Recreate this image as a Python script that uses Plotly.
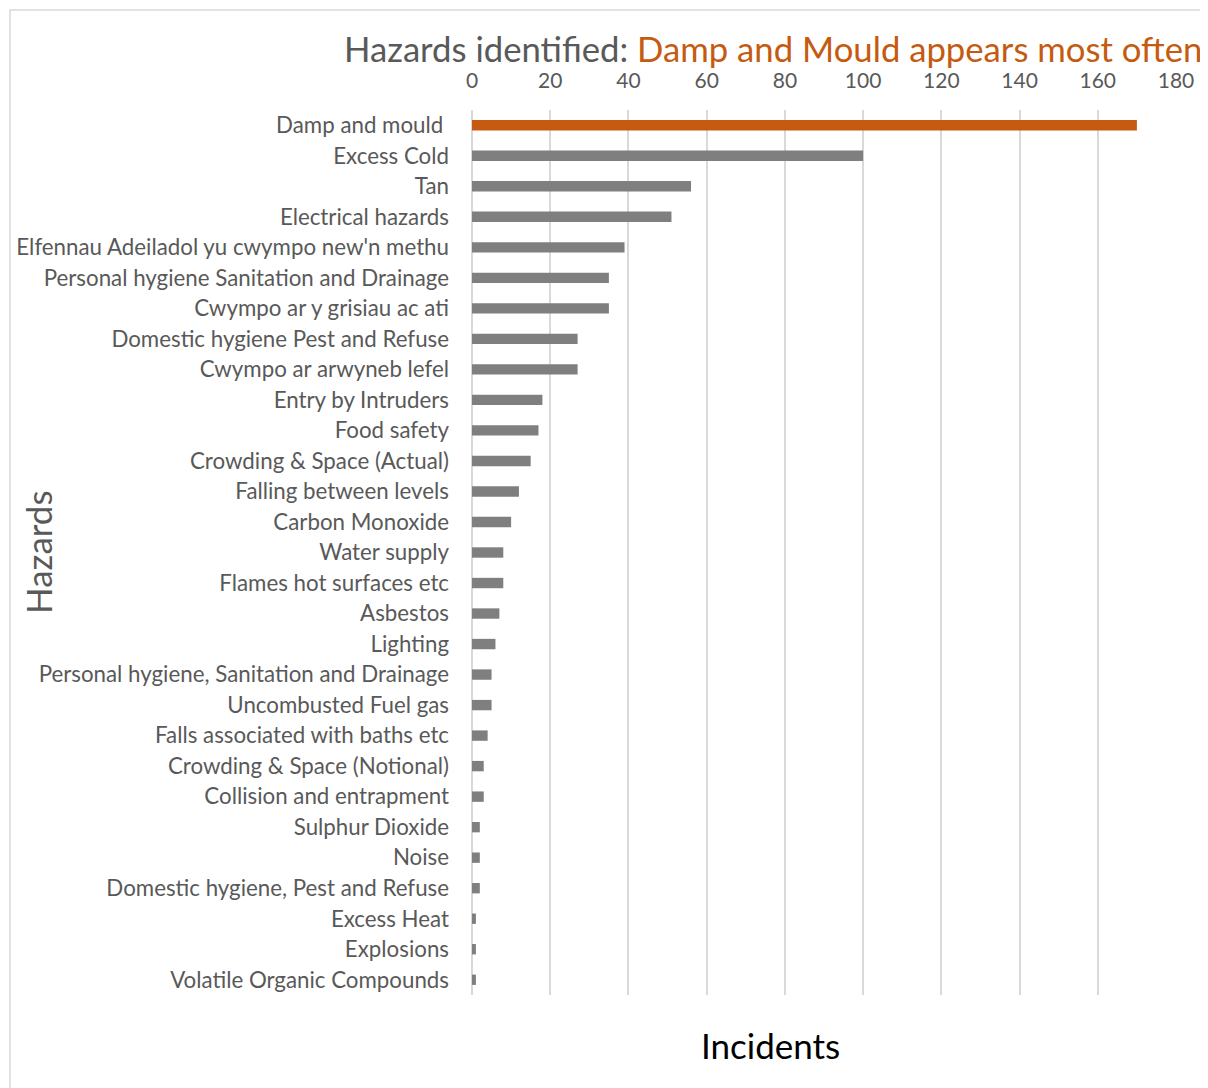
import plotly.graph_objects as go

categories = [
    "Damp and mould ", "Excess Cold", "Tan", "Electrical hazards",
    "Elfennau Adeiladol yu cwympo new'n methu",
    "Personal hygiene Sanitation and Drainage",
    "Cwympo ar y grisiau ac ati", "Domestic hygiene Pest and Refuse",
    "Cwympo ar arwyneb lefel", "Entry by Intruders", "Food safety",
    "Crowding & Space (Actual)", "Falling between levels", "Carbon Monoxide",
    "Water supply", "Flames hot surfaces etc", "Asbestos", "Lighting",
    "Personal hygiene, Sanitation and Drainage", "Uncombusted Fuel gas",
    "Falls associated with baths etc", "Crowding & Space (Notional)",
    "Collision and entrapment", "Sulphur Dioxide", "Noise",
    "Domestic hygiene, Pest and Refuse", "Excess Heat", "Explosions",
    "Volatile Organic Compounds",
]
incidents = [170, 100, 56, 51, 39, 35, 35, 27, 27, 18, 17, 15, 12, 10,
             8, 8, 7, 6, 5, 5, 4, 3, 3, 2, 2, 2, 1, 1, 1]
x_ticks = [0, 20, 40, 60, 80, 100, 120, 140, 160, 180]

ORANGE = "#C55A11"
GREY_BAR = "#7F7F7F"
TEXT = "#595959"
FONT = "Lato, 'Open Sans', sans-serif"

colors = [ORANGE if i == 0 else GREY_BAR for i in range(len(categories))]

fig = go.Figure(go.Bar(
    x=incidents, y=categories, orientation="h",
    marker=dict(color=colors, line=dict(width=0)),
    width=0.34,
))

OFF = 8  # page body margin
W, H = 1200, 1080
# target page pixel positions of plot area
PL, PR, PT, PB = 472, 1176, 110, 995
L, T = PL - OFF, PT - OFF
R = W - (PR - OFF)
B = H - (PB - OFF)
pw, ph = PR - PL, PB - PT

def px_x(p):
    return (p - PL) / pw

def px_y(p):
    return 1 - (p - PT) / ph

fig.update_layout(
    width=W, height=H,
    margin=dict(l=L, r=R, t=T, b=B),
    paper_bgcolor="white", plot_bgcolor="white",
    font=dict(family=FONT, color=TEXT, size=22),
    showlegend=False,
    xaxis=dict(
        side="top", range=[0, 180], tickvals=x_ticks,
        showgrid=True, gridcolor="#D9D9D9", gridwidth=1.5,
        zeroline=True, zerolinecolor="#D9D9D9", zerolinewidth=1.5,
        showline=False, ticks="",
        tickfont=dict(size=21, color=TEXT, family=FONT),
        ticklabelstandoff=17,
        fixedrange=True,
    ),
    yaxis=dict(
        categoryorder="array", categoryarray=categories[::-1],
        showgrid=False, showline=False, ticks="", ticklen=0,
        tickfont=dict(size=22.3, color=TEXT, family=FONT),
        automargin=False, ticklabelstandoff=22,
    ),
    shapes=[dict(
        type="rect", xref="paper", yref="paper",
        x0=px_x(10), x1=px_x(1230), y0=px_y(1110), y1=px_y(10),
        line=dict(color="#D9D9D9", width=1.5), fillcolor="rgba(0,0,0,0)",
        layer="below",
    )],
    annotations=[
        dict(
            text="Hazards identified: <span style='color:%s'>Damp and Mould appears most often</span>" % ORANGE,
            xref="paper", yref="paper", x=px_x(773), y=px_y(49),
            xanchor="center", yanchor="middle", showarrow=False,
            font=dict(size=34.7, color=TEXT, family=FONT),
        ),
        dict(
            text="Incidents", xref="paper", yref="paper",
            x=px_x(770), y=px_y(1045), xanchor="center", yanchor="middle",
            showarrow=False, font=dict(size=35, color="#000000", family=FONT),
        ),
        dict(
            text="Hazards", xref="paper", yref="paper",
            x=px_x(38), y=px_y(552), xanchor="center", yanchor="middle",
            textangle=-90, showarrow=False,
            font=dict(size=35, color=TEXT, family=FONT),
        ),
    ],
)

fig.write_html("out.html")
